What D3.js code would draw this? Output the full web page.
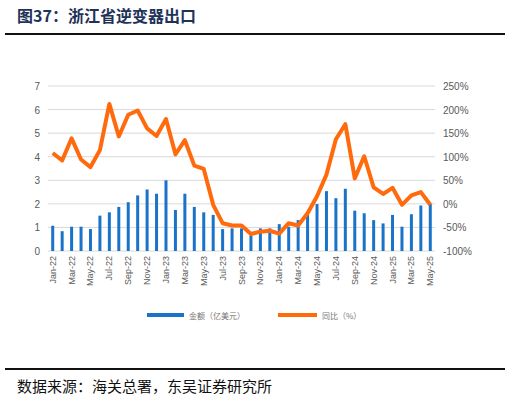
<!DOCTYPE html>
<html><head><meta charset="utf-8">
<script src="https://cdn.jsdelivr.net/npm/d3@7"></script>
<style>body{margin:0;background:#fff}</style>
</head><body>
<script>
const months = ["Jan-22","Feb-22","Mar-22","Apr-22","May-22","Jun-22","Jul-22","Aug-22","Sep-22","Oct-22","Nov-22","Dec-22",
"Jan-23","Feb-23","Mar-23","Apr-23","May-23","Jun-23","Jul-23","Aug-23","Sep-23","Oct-23","Nov-23","Dec-23",
"Jan-24","Feb-24","Mar-24","Apr-24","May-24","Jun-24","Jul-24","Aug-24","Sep-24","Oct-24","Nov-24","Dec-24",
"Jan-25","Feb-25","Mar-25","Apr-25","May-25"];
const amount = [1.07,0.84,1.03,1.03,0.93,1.5,1.64,1.87,2.07,2.36,2.61,2.43,
3.0,1.74,2.43,1.87,1.64,1.53,0.93,0.96,0.96,0.67,0.96,0.96,
1.14,1.03,1.31,1.53,1.99,2.54,2.24,2.64,1.71,1.6,1.31,1.17,
1.53,1.03,1.56,1.93,1.99];
const yoy = [108,92,139,94,78,114,212,143,189,198,160,144,
180,105,135,81,74,-2,-41,-46,-46,-64,-59,-57,
-63,-41,-46,-20,16,62,137,169,54,101,35,21,
34,-2,18,25,-2];
const leftTicks = [0,1,2,3,4,5,6,7];
const rightTicks = [-100,-50,0,50,100,150,200,250];

const W = 510, H = 402;
const svg = d3.select("body").append("svg").attr("width", W).attr("height", H);
const font = "'Noto Sans CJK SC', sans-serif";

svg.append("text").attr("x", 17).attr("y", 22).attr("font-family", font)
  .attr("font-weight", "bold").attr("font-size", 16).attr("fill", "#1f3358")
  .text("图37：浙江省逆变器出口");
svg.append("line").attr("x1", 5).attr("x2", 505).attr("y1", 34).attr("y2", 34)
  .attr("stroke", "#111").attr("stroke-width", 2);

const x = d3.scaleBand().domain(months).range([48, 435]);
const y = d3.scaleLinear().domain([0, 7]).range([251, 86]);
const y2 = d3.scaleLinear().domain([-100, 250]).range([251, 86]);

svg.append("g").selectAll("line").data(leftTicks).join("line")
  .attr("x1", 48).attr("x2", 435).attr("y1", d => y(d)).attr("y2", d => y(d))
  .attr("stroke", "#d9d9d9");

svg.append("g").selectAll("text").data(leftTicks).join("text")
  .attr("x", 40).attr("y", d => y(d) + 4).attr("text-anchor", "end")
  .attr("font-family", "Arial, sans-serif").attr("font-size", 10).attr("fill", "#595959").text(d => d);
svg.append("g").selectAll("text").data(rightTicks).join("text")
  .attr("x", 443).attr("y", d => y2(d) + 4)
  .attr("font-family", "Arial, sans-serif").attr("font-size", 10).attr("fill", "#595959").text(d => d + "%");

const bw = 3;
svg.append("g").selectAll("rect").data(amount).join("rect")
  .attr("x", (d, i) => x(months[i]) + x.bandwidth() / 2 - bw / 2)
  .attr("width", bw).attr("y", d => y(d)).attr("height", d => y(0) - y(d))
  .attr("fill", "#1a73c9");

svg.append("path").datum(yoy)
  .attr("d", d3.line().x((d, i) => x(months[i]) + x.bandwidth() / 2).y(d => y2(d)))
  .attr("fill", "none").attr("stroke", "#ff6a0c").attr("stroke-width", 4).attr("stroke-linejoin", "round");

svg.append("g").selectAll("text").data(months.filter((d, i) => i % 2 === 0)).join("text")
  .attr("transform", d => `translate(${x(d) + x.bandwidth() / 2 + 3},256) rotate(-90)`)
  .attr("text-anchor", "end").attr("font-family", "Arial, sans-serif").attr("font-size", 9)
  .attr("fill", "#595959").text(d => d);

svg.append("rect").attr("x", 147).attr("y", 313).attr("width", 37).attr("height", 4).attr("fill", "#1a73c9");
svg.append("text").attr("x", 189).attr("y", 319).attr("font-family", font).attr("font-size", 8)
  .attr("fill", "#777").text("金额（亿美元）");
svg.append("rect").attr("x", 278).attr("y", 313).attr("width", 39).attr("height", 4).attr("fill", "#ff6a0c");
svg.append("text").attr("x", 322).attr("y", 319).attr("font-family", font).attr("font-size", 8)
  .attr("fill", "#777").text("同比（%）");

svg.append("line").attr("x1", 5).attr("x2", 505).attr("y1", 369).attr("y2", 369)
  .attr("stroke", "#111").attr("stroke-width", 2);
svg.append("text").attr("x", 17).attr("y", 392).attr("font-family", font).attr("font-size", 15)
  .attr("fill", "#111").text("数据来源：海关总署，东吴证券研究所");
</script>
</body></html>
